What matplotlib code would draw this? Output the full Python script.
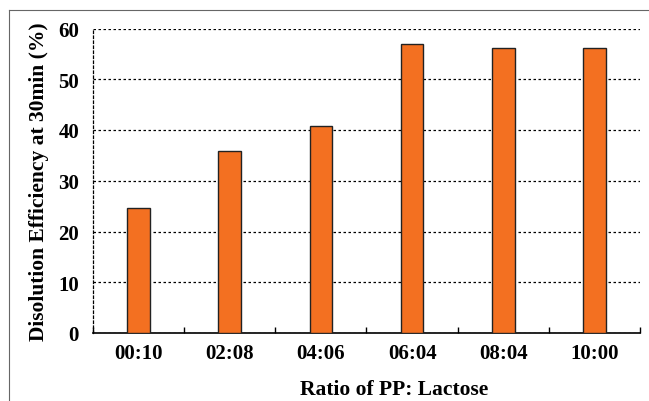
import matplotlib.pyplot as plt
import numpy as np
from matplotlib.lines import Line2D

#data
ratios = ['00:10', '02:08', '04:06', '06:04', '08:04', '10:00']
efficiency = [24.7, 35.9, 40.7, 56.9, 56.1, 56.1]

plt.rcParams['font.family'] = ['Liberation Serif', 'DejaVu Serif']
plt.rcParams['font.weight'] = 'bold'

fig = plt.figure(figsize=(6.49, 4.02), dpi=100)
ax = fig.add_axes([93/649, 1-334/402, (640-93)/649, (334-29.5)/402])

x = np.arange(len(ratios))
ax.bar(x, efficiency, width=0.25, color='#F37021', edgecolor='#222222', linewidth=1, zorder=3)

ax.set_xlim(-0.5, len(ratios)-0.5)
ax.set_ylim(0, 60)
ax.set_yticks(np.arange(0, 61, 10))
ax.set_xticks(x)
ax.set_xticklabels(ratios)
ax.set_xticks(np.arange(-0.5, len(ratios), 1), minor=True)
ax.tick_params(axis='x', which='major', length=0, labelsize=15, pad=7)
ax.tick_params(axis='x', which='minor', direction='in', length=4, width=1)
ax.tick_params(axis='y', length=0, labelsize=15, pad=10)

#dotted gridlines
ax.grid(axis='y', linestyle=(0, (2, 2)), color='black', linewidth=0.9, zorder=0)
for s in ['top', 'right']:
    ax.spines[s].set_visible(False)
ax.spines['left'].set_linestyle((0, (2, 2)))
ax.spines['left'].set_linewidth(0.9)
ax.spines['bottom'].set_linewidth(1.2)

ax.set_xlabel('Ratio of PP: Lactose', fontsize=15.5, fontweight='bold')
ax.xaxis.set_label_coords(0.55, -0.15)
ax.set_ylabel('Disolution Efficiency at 30min (%)', fontsize=15.5, fontweight='bold', labelpad=7)

#thin frame on left and top of the figure
fx = 9/649
fy = 1-11/402
fig.add_artist(Line2D([fx, fx], [0, fy], transform=fig.transFigure, color='#666666', linewidth=0.8))
fig.add_artist(Line2D([fx, 1], [fy, fy], transform=fig.transFigure, color='#666666', linewidth=0.8))

fig.savefig('out.png', dpi=100)
